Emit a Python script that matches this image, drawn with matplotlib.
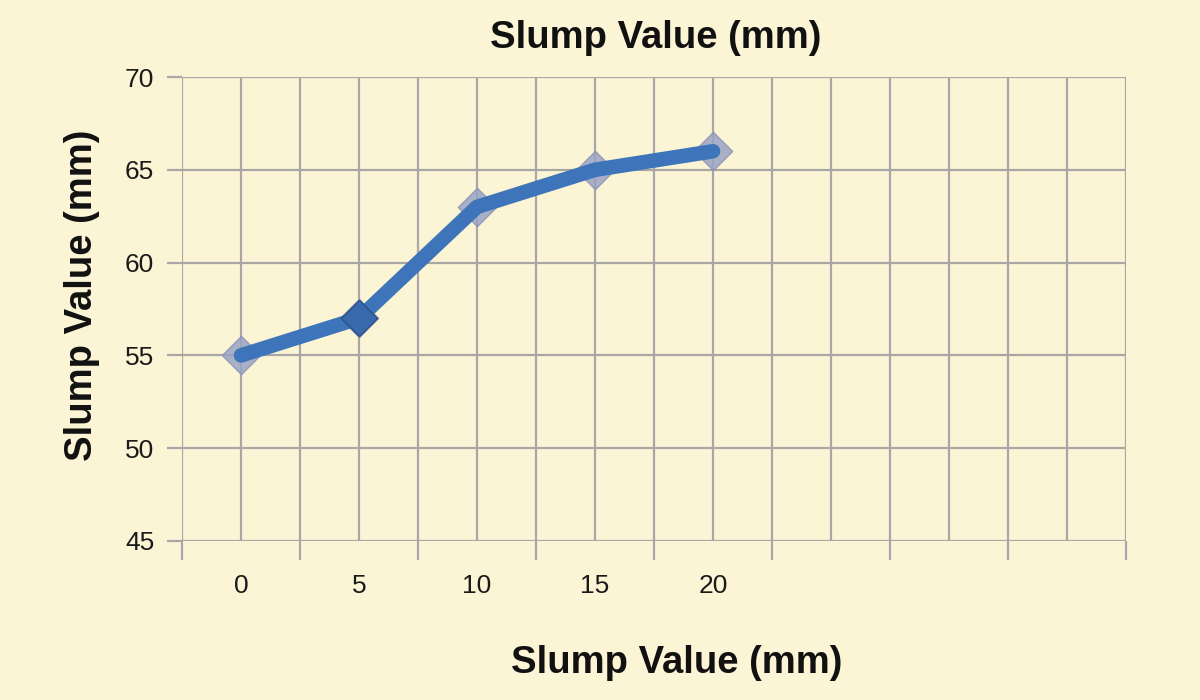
import matplotlib
matplotlib.use("Agg")
import matplotlib.pyplot as plt
import numpy as np

x_vals = [0, 5, 10, 15, 20]
slump = [55, 57, 63, 65, 66]
x_tick_labels = ["0", "5", "10", "15", "20"]
y_ticks = [45, 50, 55, 60, 65, 70]
title = "Slump Value (mm)"
xlabel = "Slump Value (mm)"
ylabel = "Slump Value (mm)"

plt.rcParams['font.family'] = ['Liberation Sans', 'DejaVu Sans']
bg = '#FBF5D6'
grid_c = '#AAA6A6'

fig = plt.figure(figsize=(12, 7), dpi=100, facecolor=bg)
ax = fig.add_axes([182/1200, 1-541/700, (1126-182)/1200, (541-77)/700])
ax.set_facecolor(bg)

ax.set_xlim(-2.5, 37.5)
ax.set_ylim(45, 70)

# gridlines
for gx in np.arange(-2.5, 37.6, 2.5):
    ax.axvline(gx, color=grid_c, lw=1.6, zorder=1)
for gy in y_ticks:
    ax.axhline(gy, color=grid_c, lw=1.6, zorder=1)

for s in ax.spines.values():
    s.set_visible(False)

# y ticks
ax.set_yticks(y_ticks)
ax.set_yticklabels([str(v) for v in y_ticks], fontsize=19, color='#1a1a1a')
ax.tick_params(axis='y', length=11, width=1.6, color=grid_c, pad=9, direction='out')
# x major ticks at category boundaries, labels placed separately
ax.set_xticks(np.arange(-2.5, 37.6, 5))
ax.set_xticklabels([])
ax.tick_params(axis='x', length=14, width=1.6, color=grid_c, direction='out')
for xv, lab in zip(x_vals, x_tick_labels):
    ax.text(xv, -0.097, lab, transform=ax.get_xaxis_transform(), ha='center', va='center',
            fontsize=19, color='#1a1a1a')

# markers behind line
ax.scatter(x_vals, slump, marker='D', s=380, color='#9AA3C4', alpha=0.85,
           edgecolors='#8C93B5', linewidths=1, zorder=2)
ax.plot(x_vals, slump, color='#3E74B9', lw=10.5, solid_capstyle='round',
        solid_joinstyle='round', zorder=3)
ax.scatter([x_vals[1]], [slump[1]], marker='D', s=340, color='#3A6AAE',
           edgecolors='#2B4F86', linewidths=1, zorder=4)

fig.text(656/1200, 1-38/700, title, ha='center', va='center', fontsize=27.5,
         fontweight='bold', color='#111111')
fig.text(677/1200, 1-663/700, xlabel, ha='center', va='center', fontsize=27.5,
         fontweight='bold', color='#111111')
fig.text(82/1200, 1-295/700, ylabel, ha='center', va='center', fontsize=27.5,
         fontweight='bold', rotation=90, color='#111111')

fig.savefig('out.png', dpi=100, facecolor=bg)
